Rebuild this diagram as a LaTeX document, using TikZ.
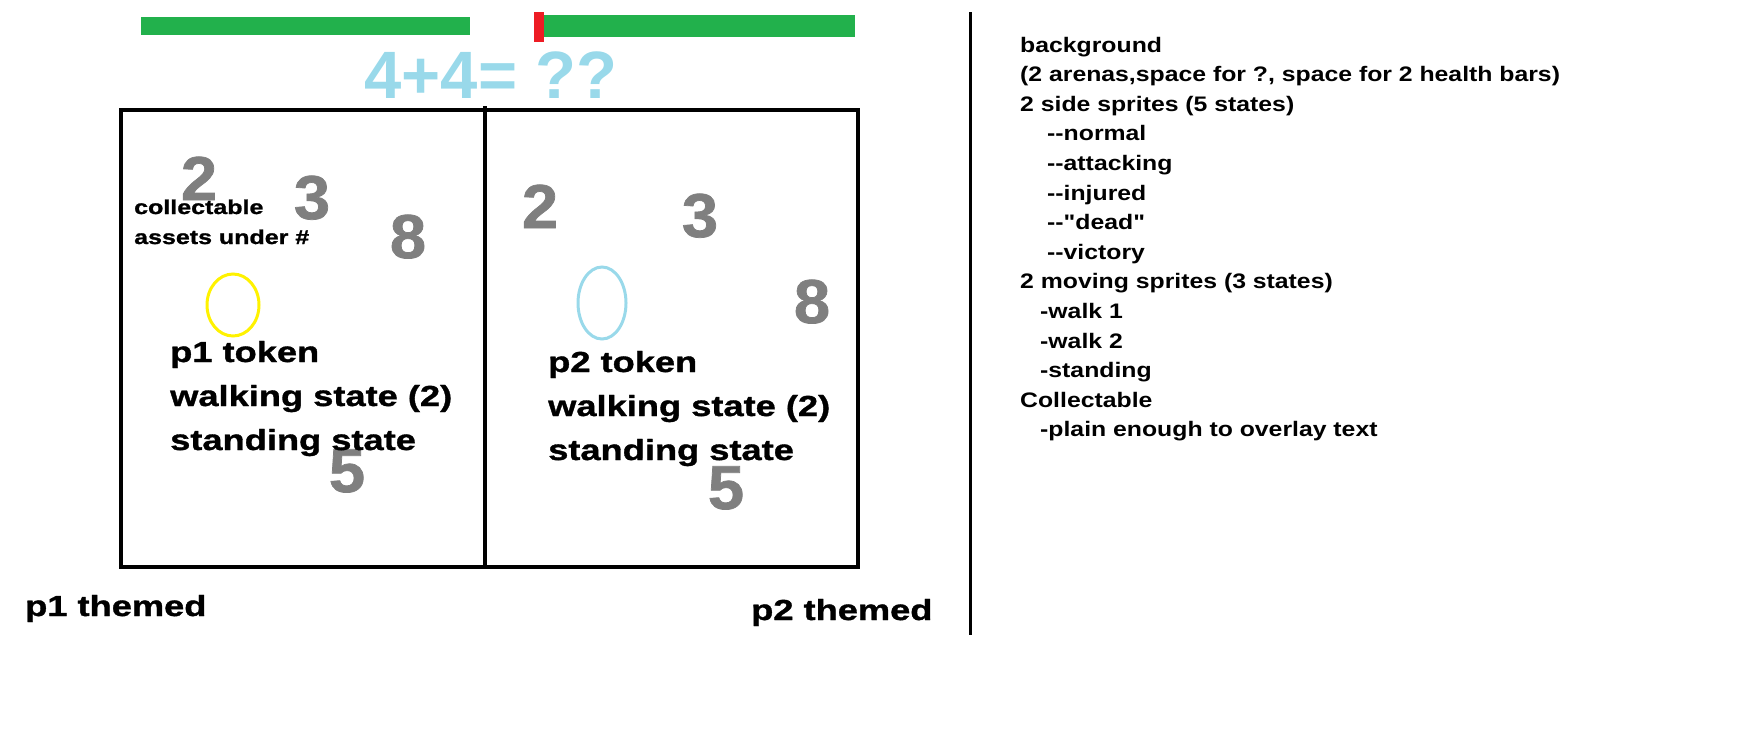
\documentclass[tikz,border=0pt]{standalone}
\usepackage{fontspec}
\setmainfont{Liberation Sans}
\newfontfamily\listfont{Liberation Sans}[FakeStretch=1.18]
\newfontfamily\heavyfont{Liberation Sans}[FakeStretch=1.25,BoldFeatures={FakeBold=1.2}]
\newfontfamily\digitfont{Liberation Sans}[FakeStretch=1.05,BoldFeatures={FakeBold=1.2}]
\usepackage{xcolor}
\definecolor{barGreen}{HTML}{22B14C}
\definecolor{barRed}{HTML}{ED1C24}
\definecolor{sumBlue}{HTML}{99D9EA}
\definecolor{numGray}{HTML}{7F7F7F}
\definecolor{tokYellow}{HTML}{FFF200}

\begin{document}
\begin{tikzpicture}[x=1pt,y=-1pt,
    arena/.style={line width=4pt},
    digit/.style={anchor=base,inner sep=0pt,text=numGray,font=\digitfont\bfseries\fontsize{62}{62}\selectfont},
    tokline/.style={anchor=base west,inner sep=0pt,font=\heavyfont\bfseries\fontsize{29}{29}\selectfont},
    smallnote/.style={anchor=base west,inner sep=0pt,font=\heavyfont\bfseries\fontsize{20}{20}\selectfont},
    listline/.style={anchor=base west,inner sep=0pt,font=\listfont\bfseries\fontsize{21}{21}\selectfont}]
    \useasboundingbox (0,0) rectangle (1752,731);
    % health bars
    \fill[barGreen] (141,17) rectangle (470,35);
    \fill[barGreen] (535,15) rectangle (855,37);
    \fill[barRed] (534,12) rectangle (544,42);
    % question over the arenas
    \node[anchor=base,inner sep=0pt,text=sumBlue,font=\bfseries\fontsize{67}{67}\selectfont] (sum) at (491,98) {4+4= ??};
    % two arenas
    \draw[arena] (121,110) rectangle (858,567);
    \draw[arena] (485,106) -- (485,567);
    % numbers in arena 1
    \node[digit] (a2) at (199,200) {2};
    \node[digit] (a3) at (312,219) {3};
    \node[digit] (a8) at (408,258) {8};
    \node[digit] (a5) at (347,492) {5};
    % numbers in arena 2
    \node[digit] (b2) at (540,228) {2};
    \node[digit] (b3) at (700,237) {3};
    \node[digit] (b8) at (812,323) {8};
    \node[digit] (b5) at (726,509) {5};
    \node[smallnote] (coll1) at (134,214) {collectable};
    \node[smallnote] (coll2) at (134,244) {assets under \#};
    % tokens
    \draw[tokYellow,line width=3pt] (233,305) ellipse [x radius=26pt,y radius=31pt];
    \draw[sumBlue,line width=3pt] (602,303) ellipse [x radius=24pt,y radius=36pt];
    \foreach \t [count=\i] in {p1 token,walking state (2),standing state} {
        \node[tokline] (pa\i) at (170,318+44*\i) {\t};
    }
    \foreach \t [count=\i] in {p2 token,walking state (2),standing state} {
        \node[tokline] (pb\i) at (548,328+44*\i) {\t};
    }
    \node[tokline] (theme1) at (25,616) {p1 themed};
    \node[tokline] (theme2) at (751,620) {p2 themed};
    % separator
    \draw[line width=3pt] (970,12) -- (970,635);
    % asset list
    \foreach \dx/\t [count=\i from 0] in {0/background,0/{(2 arenas,space for ?, space for 2 health bars)},0/{2 side sprites (5 states)},27/{{-}{-}normal},27/{{-}{-}attacking},27/{{-}{-}injured},27/{{-}{-}"dead"},27/{{-}{-}victory},0/{2 moving sprites (3 states)},20/{-walk 1},20/{-walk 2},20/{-standing},0/Collectable,20/{-plain enough to overlay text}} {
        \node[listline] (note\i) at (1020+\dx,52+29.6*\i) {\t};
    }
\end{tikzpicture}
\end{document}
